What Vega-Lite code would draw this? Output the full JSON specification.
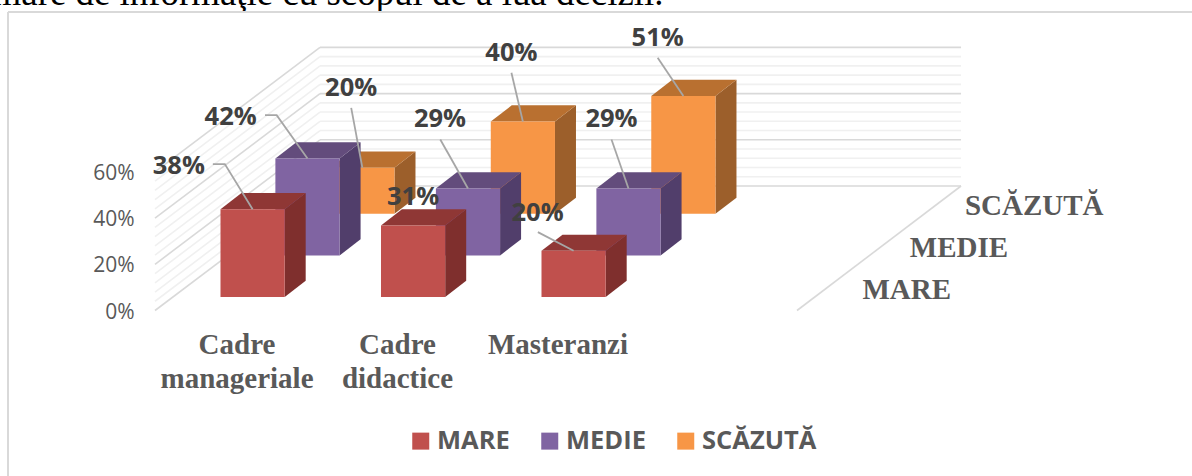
{
"$schema":"https://vega.github.io/schema/vega-lite/v6.json",
"width":1192,"height":476,"padding":0,"autosize":{"type":"none"},
"background":"white","view":{"stroke":null},
"datasets":{
"grid":[{"v":0},{"v":4},{"v":8},{"v":12},{"v":16},{"v":20},{"v":24},{"v":28},{"v":32},{"v":36},{"v":40},{"v":44},{"v":48},{"v":52},{"v":56},{"v":60}],
"cats":[{"name":"Cadre\nmanageriale"},{"name":"Cadre\ndidactice"},{"name":"Masteranzi"}],
"depth":[{"series":"MARE"},{"series":"MEDIE"},{"series":"SCĂZUTĂ"}]
},
"data":{"values":[
{"category":"Cadre manageriale","series":"MARE","value":38},
{"category":"Cadre manageriale","series":"MEDIE","value":42},
{"category":"Cadre manageriale","series":"SCĂZUTĂ","value":20},
{"category":"Cadre didactice","series":"MARE","value":31},
{"category":"Cadre didactice","series":"MEDIE","value":29},
{"category":"Cadre didactice","series":"SCĂZUTĂ","value":40},
{"category":"Masteranzi","series":"MARE","value":20},
{"category":"Masteranzi","series":"MEDIE","value":29},
{"category":"Masteranzi","series":"SCĂZUTĂ","value":51}
]},
"transform":[
{"calculate":"indexof(['Cadre manageriale','Cadre didactice','Masteranzi'],datum.category)","as":"c"},
{"calculate":"indexof(['MARE','MEDIE','SCĂZUTĂ'],datum.series)","as":"s"},
{"calculate":"datum.c+0.342*datum.s","as":"bx0"},
{"calculate":"datum.bx0+0.4","as":"bx1"},
{"calculate":"5.84+18*datum.s","as":"by0"},
{"calculate":"datum.by0+datum.value","as":"by1"},
{"calculate":"''+datum.c+datum.s","as":"key"},
{"calculate":"[0,1]","as":"t"},
{"flatten":["t"]},
{"calculate":"datum.bx1+0.1308*datum.t","as":"sx"},
{"calculate":"datum.bx0+0.1308*datum.t","as":"tx0"},
{"calculate":"datum.bx1+0.1308*datum.t","as":"tx1"},
{"calculate":"datum.by0+7*datum.t","as":"sy0"},
{"calculate":"datum.by1+7*datum.t","as":"sy1"}
],
"layer":[
{"data":{"values":[{"part":"caption"}]},
 "mark":{"type":"text","text":"mare de informaţie cu scopul de a lua decizii.","align":"left","baseline":"alphabetic","font":"Liberation Serif","fontSize":36.9,"color":"#000000"},
 "encoding":{
  "x":{"datum":-1.42,"type":"quantitative","scale":{"domain":[-1.3738,6.053],"nice":false,"zero":false},"axis":null},
  "y":{"datum":132.25,"type":"quantitative","scale":{"domain":[-71.645,134.416],"nice":false,"zero":false},"axis":{"values":[0,20,40,60],"labelExpr":"datum.value+'%'","domain":false,"ticks":false,"grid":false,"title":null,"offset":-134,"labelPadding":0,"labelFont":"Open Sans","labelFontSize":21,"labelColor":"#595959","labelOffset":1.5}}
 }},
{"data":{"values":[{"part":"top"}]},
 "mark":{"type":"rule","stroke":"#D9D9D9","strokeWidth":2},
 "encoding":{"x":{"datum":-1.3239,"type":"quantitative"},"x2":{"datum":6.053},"y":{"datum":129.2,"type":"quantitative"}}},
{"data":{"values":[{"part":"left"}]},
 "mark":{"type":"rule","stroke":"#D9D9D9","strokeWidth":2},
 "encoding":{"x":{"datum":-1.3239,"type":"quantitative"},"y":{"datum":129.2,"type":"quantitative"},"y2":{"datum":-71.645}}},
{"data":{"name":"grid"},
 "transform":[
  {"calculate":"['left','back']","as":"wall"},{"flatten":["wall"]},
  {"calculate":"datum.wall=='back'?0.62:-0.408","as":"x0"},
  {"calculate":"datum.wall=='back'?4.614:0.62","as":"x1"},
  {"calculate":"datum.wall=='back'?53.9+datum.v:datum.v","as":"y0"},
  {"calculate":"53.9+datum.v","as":"y1"}
 ],
 "mark":{"type":"rule","strokeWidth":1.6},
 "encoding":{
  "x":{"field":"x0","type":"quantitative"},"x2":{"field":"x1"},
  "y":{"field":"y0","type":"quantitative"},"y2":{"field":"y1"},
  "stroke":{"condition":{"test":"datum.v%20==0","value":"#D9D9D9"},"value":"#F0F0F0"}
 }},
{"data":{"values":[{"part":"floor"}]},
 "mark":{"type":"rule","stroke":"#D9D9D9","strokeWidth":1.6},
 "encoding":{"x":{"datum":3.592,"type":"quantitative"},"x2":{"datum":4.614},"y":{"datum":0,"type":"quantitative"},"y2":{"datum":53.9}}},
{"transform":[{"filter":"datum.series=='SCĂZUTĂ'"}],
 "layer":[
 {"mark":{"type":"area","color":"#9C5F2B"},"encoding":{"x":{"field":"sx","type":"quantitative"},"y":{"field":"sy0","type":"quantitative"},"y2":{"field":"sy1"},"detail":{"field":"category"}}},
 {"mark":{"type":"area","orient":"horizontal","color":"#B97030"},"encoding":{"y":{"field":"sy1","type":"quantitative"},"x":{"field":"tx0","type":"quantitative"},"x2":{"field":"tx1"},"detail":{"field":"category"}}},
 {"transform":[{"filter":"datum.t==0"}],"mark":"rect","encoding":{"x":{"field":"bx0","type":"quantitative"},"x2":{"field":"bx1"},"y":{"field":"by0","type":"quantitative"},"y2":{"field":"by1"},
  "color":{"field":"series","type":"nominal","scale":{"domain":["MARE","MEDIE","SCĂZUTĂ"],"range":["#C0504D","#8064A2","#F79646"]},
   "legend":{"title":null,"orient":"none","legendX":408,"legendY":428,"direction":"horizontal","columns":3,"symbolType":"M -1 -1 H 1 V 1 H -1 Z","symbolSize":289,"symbolOpacity":1,"labelFont":"Open Sans","labelFontSize":25.5,"labelFontWeight":"bold","labelColor":"#595959","columnPadding":27,"labelOffset":3.5}}}}
 ]},
{"transform":[{"filter":"datum.series=='MEDIE'"}],
 "layer":[
 {"mark":{"type":"area","color":"#513E6B"},"encoding":{"x":{"field":"sx","type":"quantitative"},"y":{"field":"sy0","type":"quantitative"},"y2":{"field":"sy1"},"detail":{"field":"category"}}},
 {"mark":{"type":"area","orient":"horizontal","color":"#634C7C"},"encoding":{"y":{"field":"sy1","type":"quantitative"},"x":{"field":"tx0","type":"quantitative"},"x2":{"field":"tx1"},"detail":{"field":"category"}}},
 {"transform":[{"filter":"datum.t==0"}],"mark":"rect","encoding":{"x":{"field":"bx0","type":"quantitative"},"x2":{"field":"bx1"},"y":{"field":"by0","type":"quantitative"},"y2":{"field":"by1"},"color":{"field":"series","type":"nominal"}}}
 ]},
{"transform":[{"filter":"datum.series=='MARE'"}],
 "layer":[
 {"mark":{"type":"area","color":"#7F2F2D"},"encoding":{"x":{"field":"sx","type":"quantitative"},"y":{"field":"sy0","type":"quantitative"},"y2":{"field":"sy1"},"detail":{"field":"category"}}},
 {"mark":{"type":"area","orient":"horizontal","color":"#8F3735"},"encoding":{"y":{"field":"sy1","type":"quantitative"},"x":{"field":"tx0","type":"quantitative"},"x2":{"field":"tx1"},"detail":{"field":"category"}}},
 {"transform":[{"filter":"datum.t==0"}],"mark":"rect","encoding":{"x":{"field":"bx0","type":"quantitative"},"x2":{"field":"bx1"},"y":{"field":"by0","type":"quantitative"},"y2":{"field":"by1"},"color":{"field":"series","type":"nominal"}}}
 ]},
{"transform":[
  {"filter":"datum.t==0"},
  {"calculate":"({'00':[[0,0],[-27.75,-45.2],[-39.75,-45.2]],'01':[[0,0],[-30.8,-43.3],[-42.5,-43.3]],'02':[[0,0],[-11.2,-59.7]],'10':[],'11':[[0,0],[-27.7,-49]],'12':[[0,0],[-11.45,-48.7]],'20':[[0,0],[-35.7,-18.7]],'21':[[0,0],[-17,-49]],'22':[[0,0],[-25.7,-38.3]]})[datum.key]","as":"pt"},
  {"flatten":["pt"]},
  {"calculate":"datum.bx0+0.2+datum.pt[0]/160.5","as":"lx"},
  {"calculate":"datum.by1-datum.pt[1]/2.31","as":"ly"}
 ],
 "mark":{"type":"line","stroke":"#A6A6A6","strokeWidth":1.8},
 "encoding":{"x":{"field":"lx","type":"quantitative"},"y":{"field":"ly","type":"quantitative"},"detail":{"field":"key"},"order":{"value":null}}},
{"transform":[
  {"filter":"datum.t==0"},
  {"calculate":"({'00':[-73.75,-43.8],'01':[-76.8,-42.3],'02':[-11.2,-80.7],'10':[0,-29.3],'11':[-28,-70],'12':[-11.45,-69.7],'20':[-36,-38.7],'21':[-17,-70],'22':[-25.7,-58.7]})[datum.key]","as":"o"},
  {"calculate":"datum.bx0+0.2+datum.o[0]/160.5","as":"lx"},
  {"calculate":"datum.by1-(datum.o[1]+1)/2.31","as":"ly"},
  {"calculate":"datum.value+'%'","as":"label"}
 ],
 "mark":{"type":"text","font":"Open Sans","fontWeight":"bold","fontSize":25.5,"color":"#404040","align":"center","baseline":"middle"},
 "encoding":{"x":{"field":"lx","type":"quantitative"},"y":{"field":"ly","type":"quantitative"},"text":{"field":"label"}}},
{"data":{"name":"cats"},
 "transform":[
  {"calculate":"indexof(['Cadre\\nmanageriale','Cadre\\ndidactice','Masteranzi'],datum.name)+0.1028","as":"lx"},
  {"calculate":"split(datum.name,'\\n')","as":"lines"},
  {"calculate":"-14.9","as":"ly"}
 ],
 "mark":{"type":"text","font":"Liberation Serif","fontWeight":"bold","fontSize":29,"color":"#595959","align":"center","baseline":"middle","lineHeight":34},
 "encoding":{"x":{"field":"lx","type":"quantitative"},"y":{"field":"ly","type":"quantitative"},"text":{"field":"lines"}}},
{"data":{"name":"depth"},
 "transform":[
  {"calculate":"indexof(['MARE','MEDIE','SCĂZUTĂ'],datum.series)","as":"s"},
  {"calculate":"[4.0,4.295,4.638][datum.s]","as":"lx"},
  {"calculate":"9.09+18*datum.s","as":"ly"}
 ],
 "mark":{"type":"text","font":"Liberation Serif","fontWeight":"bold","fontSize":29,"color":"#595959","align":"left","baseline":"middle"},
 "encoding":{"x":{"field":"lx","type":"quantitative"},"y":{"field":"ly","type":"quantitative"},"text":{"field":"series"}}}
]
}
